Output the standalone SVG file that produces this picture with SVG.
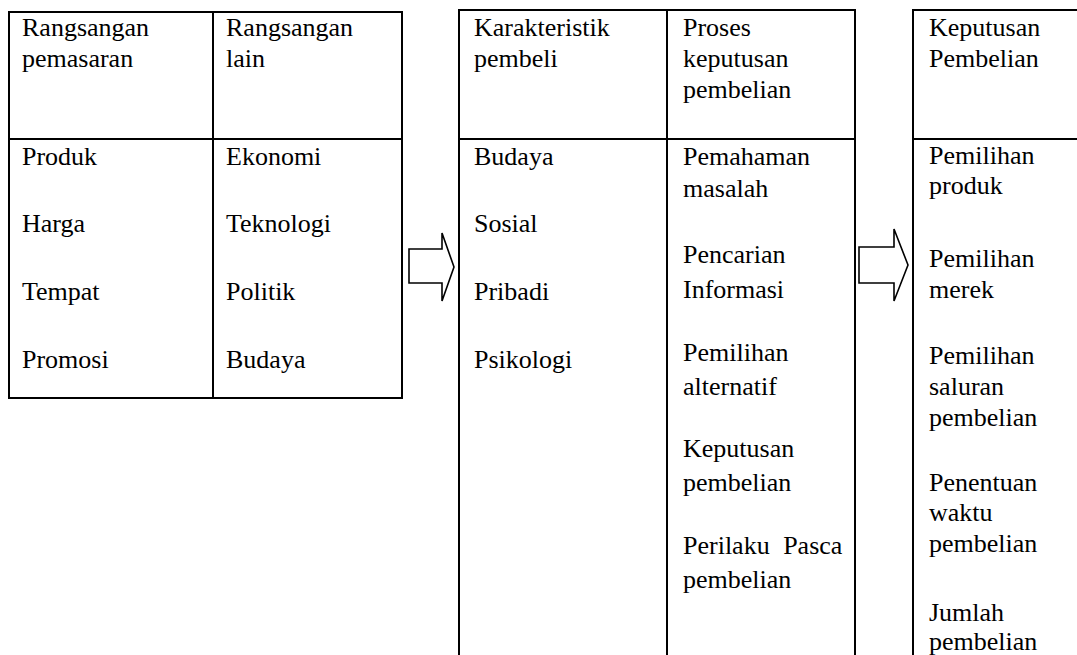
<svg xmlns="http://www.w3.org/2000/svg" width="1077" height="655" viewBox="0 0 1077 655">
  <style>
    .cell { fill: none; stroke: #000; stroke-width: 2; }
    .rule { stroke: #000; stroke-width: 2; }
    .arrow { fill: #fff; stroke: #000; stroke-width: 1.6; stroke-linejoin: miter; }
    text { font-family: "Liberation Serif", "Times New Roman", serif; font-size: 26px; fill: #000; }
  </style>
  <rect width="1077" height="655" fill="#fff"/>

  <!-- Stimuli table -->
  <g id="rangsangan">
    <rect class="cell" x="9" y="12" width="393" height="386"/>
    <line class="rule" x1="9" y1="139" x2="402" y2="139"/>
    <line class="rule" x1="213" y1="12" x2="213" y2="398"/>
    <text x="22" y="36">Rangsangan</text>
    <text x="22" y="67">pemasaran</text>
    <text x="226" y="36">Rangsangan</text>
    <text x="226" y="67">lain</text>
    <text x="22" y="165">Produk</text>
    <text x="22" y="232">Harga</text>
    <text x="22" y="300">Tempat</text>
    <text x="22" y="368">Promosi</text>
    <text x="226" y="165">Ekonomi</text>
    <text x="226" y="232">Teknologi</text>
    <text x="226" y="300">Politik</text>
    <text x="226" y="368">Budaya</text>
  </g>

  <!-- Buyer table -->
  <g id="pembeli">
    <polyline class="cell" points="459,662 459,10 855,10 855,662"/>
    <line class="rule" x1="459" y1="139" x2="855" y2="139"/>
    <line class="rule" x1="667" y1="10" x2="667" y2="662"/>
    <text x="474" y="36">Karakteristik</text>
    <text x="474" y="67">pembeli</text>
    <text x="683" y="36">Proses</text>
    <text x="683" y="67">keputusan</text>
    <text x="683" y="98">pembelian</text>
    <text x="474" y="165">Budaya</text>
    <text x="474" y="232">Sosial</text>
    <text x="474" y="300">Pribadi</text>
    <text x="474" y="368">Psikologi</text>
    <text x="683" y="165">Pemahaman</text>
    <text x="683" y="197">masalah</text>
    <text x="683" y="263">Pencarian</text>
    <text x="683" y="298">Informasi</text>
    <text x="683" y="361">Pemilihan</text>
    <text x="683" y="395">alternatif</text>
    <text x="683" y="457">Keputusan</text>
    <text x="683" y="491">pembelian</text>
    <text x="683" y="554" word-spacing="7">Perilaku Pasca</text>
    <text x="683" y="588">pembelian</text>
  </g>

  <!-- Purchase decision table -->
  <g id="keputusan">
    <polyline class="cell" points="913,662 913,10 1085,10"/>
    <line class="rule" x1="913" y1="139" x2="1085" y2="139"/>
    <text x="929" y="36">Keputusan</text>
    <text x="929" y="67">Pembelian</text>
    <text x="929" y="164">Pemilihan</text>
    <text x="929" y="194">produk</text>
    <text x="929" y="267">Pemilihan</text>
    <text x="929" y="298">merek</text>
    <text x="929" y="364">Pemilihan</text>
    <text x="929" y="395">saluran</text>
    <text x="929" y="426">pembelian</text>
    <text x="929" y="491">Penentuan</text>
    <text x="929" y="521">waktu</text>
    <text x="929" y="552">pembelian</text>
    <text x="929" y="621">Jumlah</text>
    <text x="929" y="650">pembelian</text>
  </g>

  <!-- Block arrows between the tables -->
  <g id="connectors">
    <polygon class="arrow" points="409,249 442,249 442,233 454,267 442,301 442,283 409,283"/>
    <polygon class="arrow" points="859,247 894,247 894,229 908,265 894,301 894,283 859,283"/>
  </g>
</svg>
